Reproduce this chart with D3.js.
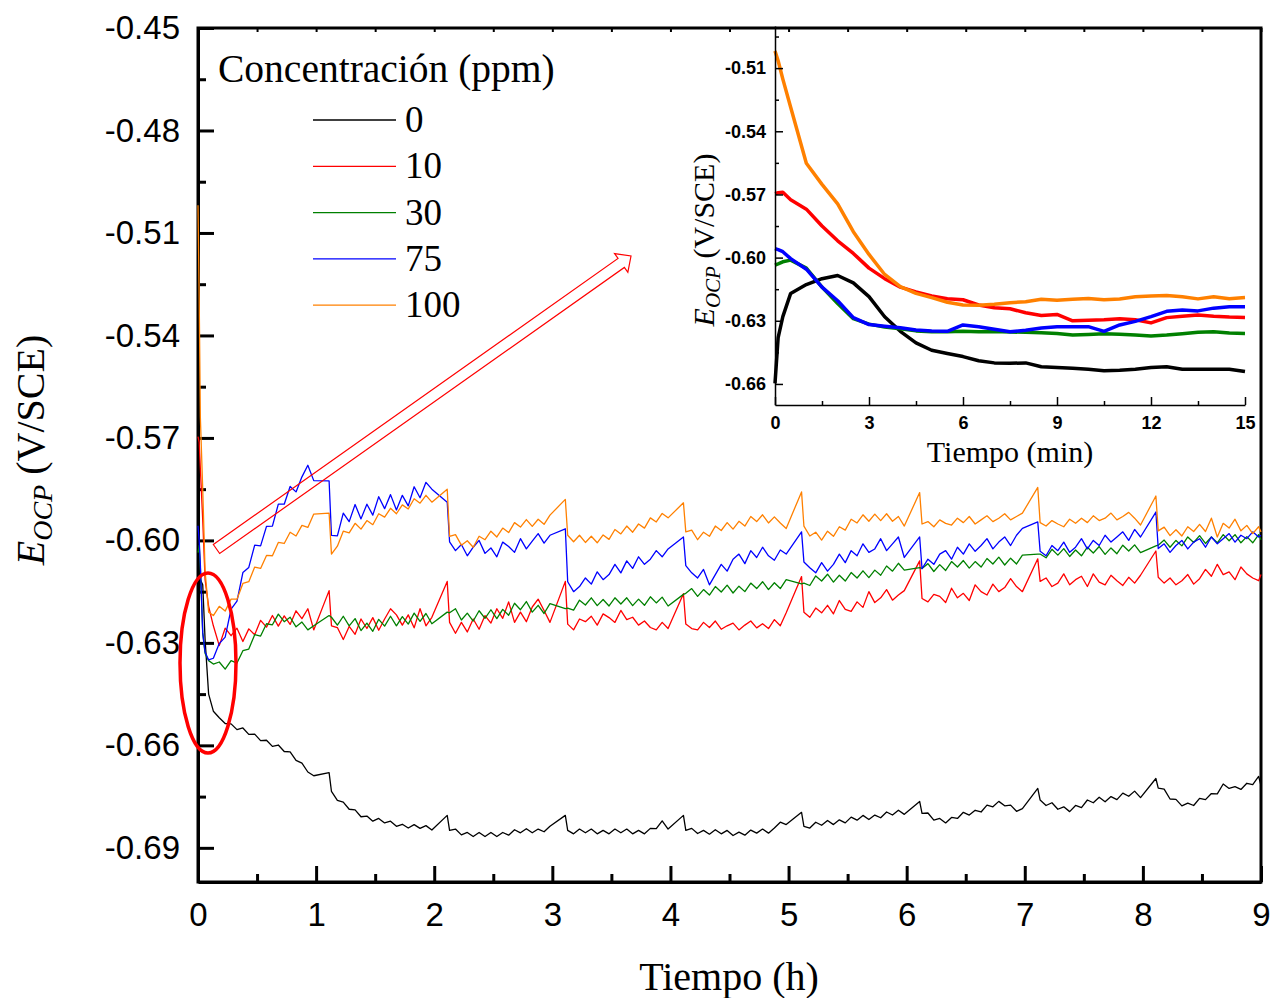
<!DOCTYPE html>
<html>
<head>
<meta charset="utf-8">
<script src="https://cdn.jsdelivr.net/npm/d3@7"></script>
<style>
  body { margin: 0; background: #fff; }
</style>
</head>
<body>
<div class="chart"></div>
<script>
// sampling times (h), each hourly block ends with the logger gap ramp
const hours = [0, 0.01, 0.02, 0.04, 0.06, 0.09,
  0.13, 0.18, 0.23, 0.28, 0.33, 0.38, 0.43, 0.48, 0.53, 0.58, 0.63, 0.68, 0.73, 0.78, 0.83, 0.88, 0.93, 0.98, 1.11,
  1.13, 1.18, 1.23, 1.28, 1.33, 1.38, 1.43, 1.48, 1.53, 1.58, 1.63, 1.68, 1.73, 1.78, 1.83, 1.88, 1.93, 1.98, 2.11,
  2.13, 2.18, 2.23, 2.28, 2.33, 2.38, 2.43, 2.48, 2.53, 2.58, 2.63, 2.68, 2.73, 2.78, 2.83, 2.88, 2.93, 2.98, 3.11,
  3.13, 3.18, 3.23, 3.28, 3.33, 3.38, 3.43, 3.48, 3.53, 3.58, 3.63, 3.68, 3.73, 3.78, 3.83, 3.88, 3.93, 3.98, 4.11,
  4.13, 4.18, 4.23, 4.28, 4.33, 4.38, 4.43, 4.48, 4.53, 4.58, 4.63, 4.68, 4.73, 4.78, 4.83, 4.88, 4.93, 4.98, 5.11,
  5.13, 5.18, 5.23, 5.28, 5.33, 5.38, 5.43, 5.48, 5.53, 5.58, 5.63, 5.68, 5.73, 5.78, 5.83, 5.88, 5.93, 5.98, 6.11,
  6.13, 6.18, 6.23, 6.28, 6.33, 6.38, 6.43, 6.48, 6.53, 6.58, 6.63, 6.68, 6.73, 6.78, 6.83, 6.88, 6.93, 6.98, 7.11,
  7.13, 7.18, 7.23, 7.28, 7.33, 7.38, 7.43, 7.48, 7.53, 7.58, 7.63, 7.68, 7.73, 7.78, 7.83, 7.88, 7.93, 7.98, 8.11,
  8.13, 8.18, 8.23, 8.28, 8.33, 8.38, 8.43, 8.48, 8.53, 8.58, 8.63, 8.68, 8.73, 8.78, 8.83, 8.88, 8.93, 8.98, 9.00];

const ppm0 = [-0.6597, -0.6165, -0.6115, -0.6130, -0.6290, -0.6450,
  -0.6500, -0.6519, -0.6536, -0.6537, -0.6554, -0.6549, -0.6568, -0.6567, -0.6586, -0.6585, -0.6603, -0.6599, -0.6618, -0.6619, -0.6644, -0.6652, -0.6678, -0.6689, -0.6680,
  -0.6735, -0.6761, -0.6766, -0.6787, -0.6789, -0.6809, -0.6807, -0.6822, -0.6814, -0.6827, -0.6822, -0.6837, -0.6831, -0.6842, -0.6832, -0.6843, -0.6835, -0.6848, -0.6805,
  -0.6849, -0.6845, -0.6862, -0.6855, -0.6867, -0.6855, -0.6867, -0.6855, -0.6867, -0.6855, -0.6863, -0.6847, -0.6856, -0.6844, -0.6856, -0.6845, -0.6853, -0.6837, -0.6805,
  -0.6849, -0.6859, -0.6845, -0.6856, -0.6845, -0.6859, -0.6849, -0.6859, -0.6845, -0.6856, -0.6845, -0.6859, -0.6849, -0.6859, -0.6843, -0.6844, -0.6821, -0.6845, -0.6805,
  -0.6849, -0.6843, -0.6858, -0.6849, -0.6860, -0.6847, -0.6859, -0.6849, -0.6864, -0.6854, -0.6863, -0.6848, -0.6857, -0.6845, -0.6857, -0.6842, -0.6825, -0.6832, -0.6796,
  -0.6837, -0.6842, -0.6825, -0.6834, -0.6820, -0.6832, -0.6818, -0.6827, -0.6810, -0.6819, -0.6805, -0.6817, -0.6804, -0.6812, -0.6795, -0.6804, -0.6790, -0.6802, -0.6764,
  -0.6799, -0.6798, -0.6819, -0.6814, -0.6827, -0.6811, -0.6814, -0.6796, -0.6804, -0.6790, -0.6795, -0.6775, -0.6780, -0.6764, -0.6777, -0.6775, -0.6793, -0.6785, -0.6726,
  -0.6760, -0.6776, -0.6768, -0.6787, -0.6780, -0.6794, -0.6776, -0.6782, -0.6760, -0.6768, -0.6752, -0.6765, -0.6750, -0.6759, -0.6740, -0.6749, -0.6734, -0.6753, -0.6697,
  -0.6725, -0.6728, -0.6757, -0.6758, -0.6777, -0.6769, -0.6776, -0.6755, -0.6759, -0.6741, -0.6742, -0.6713, -0.6726, -0.6721, -0.6729, -0.6711, -0.6715, -0.6691, -0.6718];

const ppm10 = [-0.5696, -0.5712, -0.5790, -0.5940, -0.6115, -0.6193,
  -0.6250, -0.6308, -0.6257, -0.6279, -0.6257, -0.6296, -0.6259, -0.6276, -0.6234, -0.6254, -0.6220, -0.6251, -0.6221, -0.6246, -0.6206, -0.6229, -0.6200, -0.6262, -0.6147,
  -0.6250, -0.6255, -0.6290, -0.6252, -0.6275, -0.6230, -0.6258, -0.6226, -0.6263, -0.6230, -0.6200, -0.6218, -0.6248, -0.6218, -0.6256, -0.6200, -0.6250, -0.6225, -0.6120,
  -0.6240, -0.6272, -0.6240, -0.6268, -0.6230, -0.6260, -0.6220, -0.6242, -0.6200, -0.6228, -0.6180, -0.6240, -0.6210, -0.6238, -0.6195, -0.6172, -0.6205, -0.6240, -0.6120,
  -0.6245, -0.6262, -0.6230, -0.6238, -0.6222, -0.6248, -0.6215, -0.6226, -0.6240, -0.6205, -0.6232, -0.6225, -0.6248, -0.6236, -0.6255, -0.6262, -0.6240, -0.6258, -0.6156,
  -0.6245, -0.6258, -0.6262, -0.6240, -0.6255, -0.6236, -0.6260, -0.6250, -0.6242, -0.6262, -0.6248, -0.6236, -0.6256, -0.6244, -0.6258, -0.6232, -0.6250, -0.6212, -0.6106,
  -0.6210, -0.6225, -0.6198, -0.6212, -0.6190, -0.6215, -0.6176, -0.6202, -0.6208, -0.6180, -0.6196, -0.6150, -0.6182, -0.6168, -0.6144, -0.6175, -0.6160, -0.6147, -0.6060,
  -0.6170, -0.6180, -0.6158, -0.6164, -0.6182, -0.6140, -0.6168, -0.6155, -0.6176, -0.6130, -0.6150, -0.6160, -0.6128, -0.6150, -0.6138, -0.6112, -0.6135, -0.6150, -0.6054,
  -0.6120, -0.6110, -0.6135, -0.6125, -0.6098, -0.6130, -0.6115, -0.6105, -0.6135, -0.6098, -0.6122, -0.6130, -0.6102, -0.6118, -0.6132, -0.6108, -0.6125, -0.6102, -0.6031,
  -0.6108, -0.6125, -0.6110, -0.6130, -0.6118, -0.6100, -0.6128, -0.6112, -0.6085, -0.6105, -0.6070, -0.6100, -0.6092, -0.6115, -0.6078, -0.6098, -0.6110, -0.6118, -0.6100];

const ppm30 = [-0.6036, -0.6015, -0.6080, -0.6272, -0.6331, -0.6352,
  -0.6362, -0.6356, -0.6377, -0.6352, -0.6359, -0.6323, -0.6318, -0.6276, -0.6280, -0.6244, -0.6247, -0.6216, -0.6238, -0.6225, -0.6253, -0.6239, -0.6262, -0.6250, -0.6220,
  -0.6225, -0.6248, -0.6222, -0.6250, -0.6229, -0.6264, -0.6242, -0.6266, -0.6231, -0.6251, -0.6222, -0.6250, -0.6223, -0.6245, -0.6213, -0.6237, -0.6214, -0.6244, -0.6210,
  -0.6212, -0.6200, -0.6233, -0.6213, -0.6236, -0.6206, -0.6228, -0.6203, -0.6229, -0.6202, -0.6219, -0.6184, -0.6203, -0.6179, -0.6210, -0.6190, -0.6214, -0.6185, -0.6200,
  -0.6198, -0.6204, -0.6175, -0.6189, -0.6168, -0.6191, -0.6173, -0.6192, -0.6168, -0.6186, -0.6168, -0.6191, -0.6172, -0.6190, -0.6165, -0.6183, -0.6166, -0.6192, -0.6158,
  -0.6155, -0.6141, -0.6164, -0.6144, -0.6160, -0.6135, -0.6151, -0.6131, -0.6154, -0.6134, -0.6150, -0.6125, -0.6141, -0.6121, -0.6144, -0.6124, -0.6141, -0.6115, -0.6127,
  -0.6125, -0.6132, -0.6104, -0.6119, -0.6099, -0.6122, -0.6102, -0.6119, -0.6094, -0.6110, -0.6089, -0.6109, -0.6087, -0.6102, -0.6075, -0.6090, -0.6067, -0.6087, -0.6080,
  -0.6082, -0.6068, -0.6091, -0.6071, -0.6088, -0.6062, -0.6078, -0.6059, -0.6081, -0.6062, -0.6078, -0.6053, -0.6069, -0.6049, -0.6072, -0.6052, -0.6069, -0.6043, -0.6040,
  -0.6040, -0.6051, -0.6026, -0.6043, -0.6024, -0.6047, -0.6028, -0.6045, -0.6020, -0.6037, -0.6018, -0.6041, -0.6022, -0.6039, -0.6014, -0.6031, -0.6013, -0.6036, -0.6016,
  -0.6014, -0.5999, -0.6020, -0.6000, -0.6016, -0.5990, -0.6006, -0.5986, -0.6009, -0.5990, -0.6007, -0.5983, -0.6001, -0.5983, -0.6007, -0.5989, -0.6007, -0.5983, -0.5998];

const ppm75 = [-0.5957, -0.6000, -0.6070, -0.6270, -0.6327, -0.6350,
  -0.6345, -0.6302, -0.6283, -0.6201, -0.6178, -0.6094, -0.6079, -0.6014, -0.6016, -0.5959, -0.5958, -0.5894, -0.5894, -0.5842, -0.5858, -0.5814, -0.5780, -0.5825, -0.5826,
  -0.5985, -0.5987, -0.5920, -0.5945, -0.5895, -0.5937, -0.5894, -0.5926, -0.5872, -0.5907, -0.5866, -0.5911, -0.5868, -0.5899, -0.5843, -0.5875, -0.5830, -0.5850, -0.5888,
  -0.6004, -0.6030, -0.6012, -0.6045, -0.6020, -0.6000, -0.6038, -0.6022, -0.6048, -0.6005, -0.6018, -0.6035, -0.5995, -0.6025, -0.6002, -0.5980, -0.6008, -0.5985, -0.5966,
  -0.6121, -0.6150, -0.6135, -0.6110, -0.6128, -0.6092, -0.6115, -0.6100, -0.6070, -0.6095, -0.6060, -0.6082, -0.6048, -0.6070, -0.6055, -0.6030, -0.6048, -0.6025, -0.5990,
  -0.6074, -0.6095, -0.6110, -0.6085, -0.6130, -0.6100, -0.6070, -0.6090, -0.6055, -0.6040, -0.6068, -0.6030, -0.6050, -0.6020, -0.6045, -0.6058, -0.6028, -0.6040, -0.5975,
  -0.6063, -0.6080, -0.6095, -0.6065, -0.6090, -0.6070, -0.6040, -0.6065, -0.6030, -0.6045, -0.6010, -0.6035, -0.6025, -0.5995, -0.6030, -0.6010, -0.5990, -0.6050, -0.5990,
  -0.6083, -0.6055, -0.6070, -0.6040, -0.6030, -0.6055, -0.6020, -0.6040, -0.6010, -0.6032, -0.6015, -0.5995, -0.6025, -0.6005, -0.5990, -0.6015, -0.5985, -0.5965, -0.5946,
  -0.6032, -0.6045, -0.6015, -0.6030, -0.6005, -0.6035, -0.6020, -0.5995, -0.6025, -0.6000, -0.6015, -0.5985, -0.6005, -0.5990, -0.5975, -0.6000, -0.5968, -0.5990, -0.5917,
  -0.6024, -0.6010, -0.6035, -0.6015, -0.6000, -0.6025, -0.6005, -0.5995, -0.6020, -0.5990, -0.6010, -0.5995, -0.5980, -0.6005, -0.5985, -0.5995, -0.5975, -0.5990, -0.5985];

const ppm100 = [-0.5019, -0.5290, -0.5640, -0.5850, -0.6090, -0.6210,
  -0.6220, -0.6193, -0.6207, -0.6172, -0.6172, -0.6126, -0.6121, -0.6078, -0.6082, -0.6044, -0.6045, -0.6006, -0.6009, -0.5976, -0.5987, -0.5956, -0.5962, -0.5923, -0.5920,
  -0.6040, -0.6017, -0.5973, -0.5978, -0.5950, -0.5967, -0.5942, -0.5954, -0.5922, -0.5932, -0.5906, -0.5922, -0.5896, -0.5908, -0.5878, -0.5891, -0.5868, -0.5888, -0.5850,
  -0.5988, -0.5983, -0.6014, -0.6001, -0.6020, -0.5988, -0.5998, -0.5973, -0.5990, -0.5964, -0.5977, -0.5948, -0.5961, -0.5939, -0.5959, -0.5938, -0.5953, -0.5926, -0.5880,
  -0.5985, -0.6004, -0.5985, -0.6006, -0.5988, -0.6007, -0.5984, -0.5997, -0.5968, -0.5981, -0.5958, -0.5976, -0.5952, -0.5964, -0.5934, -0.5946, -0.5921, -0.5934, -0.5890,
  -0.5975, -0.5970, -0.5998, -0.5976, -0.5988, -0.5958, -0.5971, -0.5948, -0.5967, -0.5944, -0.5958, -0.5930, -0.5945, -0.5925, -0.5949, -0.5931, -0.5949, -0.5965, -0.5858,
  -0.5958, -0.5987, -0.5976, -0.5999, -0.5973, -0.5988, -0.5960, -0.5970, -0.5938, -0.5949, -0.5925, -0.5944, -0.5923, -0.5942, -0.5922, -0.5944, -0.5930, -0.5958, -0.5860,
  -0.5952, -0.5945, -0.5960, -0.5940, -0.5950, -0.5955, -0.5935, -0.5948, -0.5930, -0.5952, -0.5940, -0.5928, -0.5945, -0.5935, -0.5922, -0.5940, -0.5930, -0.5920, -0.5845,
  -0.5948, -0.5958, -0.5942, -0.5952, -0.5960, -0.5938, -0.5950, -0.5935, -0.5948, -0.5928, -0.5942, -0.5935, -0.5920, -0.5940, -0.5930, -0.5918, -0.5935, -0.5955, -0.5870,
  -0.5972, -0.5961, -0.5986, -0.5969, -0.5987, -0.5960, -0.5974, -0.5953, -0.5974, -0.5935, -0.5990, -0.5950, -0.5964, -0.5938, -0.5972, -0.5956, -0.5980, -0.5960, -0.5975];

// inset: first 15 minutes
const minutes = [0, 0.1, 0.25, 0.5, 1, 1.5, 2, 2.5, 3, 3.5, 4, 4.5, 5, 5.5, 6, 6.5, 7, 7.5, 8, 8.5, 9, 9.5, 10, 10.5, 11, 11.5, 12, 12.5, 13, 13.5, 14, 14.5, 15];
const inset0 = [-0.6597, -0.6380, -0.6280, -0.6170, -0.6128, -0.6100, -0.6085, -0.6120, -0.6185, -0.6281, -0.6350, -0.6405, -0.6440, -0.6455, -0.6470, -0.6490, -0.6500, -0.6502, -0.6500, -0.6518, -0.6522, -0.6525, -0.6530, -0.6537, -0.6535, -0.6530, -0.6522, -0.6518, -0.6530, -0.6530, -0.6530, -0.6530, -0.6541];
const inset10 = [-0.5696, -0.5692, -0.5690, -0.5725, -0.5770, -0.5850, -0.5920, -0.5980, -0.6050, -0.6100, -0.6140, -0.6163, -0.6182, -0.6195, -0.6200, -0.6225, -0.6238, -0.6243, -0.6262, -0.6275, -0.6270, -0.6300, -0.6298, -0.6295, -0.6290, -0.6295, -0.6310, -0.6285, -0.6278, -0.6272, -0.6278, -0.6282, -0.6284];
const inset30 = [-0.6036, -0.6030, -0.6020, -0.6012, -0.6050, -0.6140, -0.6218, -0.6290, -0.6316, -0.6330, -0.6338, -0.6348, -0.6352, -0.6352, -0.6350, -0.6352, -0.6351, -0.6353, -0.6355, -0.6357, -0.6360, -0.6367, -0.6365, -0.6362, -0.6364, -0.6368, -0.6372, -0.6368, -0.6362, -0.6355, -0.6352, -0.6358, -0.6360];
const inset75 = [-0.5957, -0.5962, -0.5972, -0.6005, -0.6055, -0.6140, -0.6205, -0.6285, -0.6318, -0.6326, -0.6333, -0.6344, -0.6348, -0.6350, -0.6320, -0.6328, -0.6340, -0.6352, -0.6345, -0.6334, -0.6328, -0.6328, -0.6328, -0.6350, -0.6320, -0.6303, -0.6280, -0.6255, -0.6249, -0.6253, -0.6240, -0.6233, -0.6233];
const inset100 = [-0.5019, -0.5065, -0.5152, -0.5286, -0.5552, -0.5652, -0.5745, -0.5877, -0.5985, -0.6080, -0.6138, -0.6170, -0.6190, -0.6212, -0.6225, -0.6226, -0.6222, -0.6214, -0.6210, -0.6198, -0.6202, -0.6198, -0.6194, -0.6200, -0.6197, -0.6186, -0.6182, -0.6180, -0.6186, -0.6196, -0.6186, -0.6195, -0.6190];

const concentrations = ['0', '10', '30', '75', '100'];
const hourTicks = [0, 1, 2, 3, 4, 5, 6, 7, 8, 9];
const voltTicks = [-0.45, -0.48, -0.51, -0.54, -0.57, -0.60, -0.63, -0.66, -0.69];
const minuteTicks = [0, 3, 6, 9, 12, 15];
const insetVoltTicks = [-0.51, -0.54, -0.57, -0.60, -0.63, -0.66];

const colors = ['#000000', '#ff0000', '#008000', '#0000ff', '#ff8000'];
const mainSeries = [ppm0, ppm10, ppm30, ppm75, ppm100];
const insetSeries = [inset0, inset10, inset30, inset75, inset100];

const sans = '"Liberation Sans", Arial, sans-serif';
const serif = '"Liberation Serif", "Times New Roman", serif';

const svg = d3.select('.chart').append('svg')
    .attr('width', 1274)
    .attr('height', 998)
    .style('display', 'block');

// ---------- main plot ----------
const x = d3.scaleLinear().domain([0, 9]).range([198, 1261]);
const y = d3.scaleLinear().domain([-0.70, -0.45]).range([882, 28]);

function tidy(g, width, size, family, weight) {
    g.select('.domain').attr('stroke-width', width);
    g.selectAll('.tick line').attr('stroke-width', width);
    g.selectAll('.tick text')
        .attr('fill', '#000')
        .style('font-family', family)
        .style('font-size', size + 'px')
        .style('font-weight', weight);
}

const hourMinor = hourTicks.slice(1).map(h => h - 0.5);
const voltMinor = voltTicks.map(v => v - 0.015).filter(v => v > -0.70);

svg.append('rect')
    .attr('x', 198).attr('y', 28)
    .attr('width', 1261 - 198).attr('height', 882 - 28)
    .attr('fill', 'none').attr('stroke', '#000').attr('stroke-width', 3);

svg.append('g')
    .attr('transform', 'translate(0,882)')
    .call(d3.axisBottom(x).tickValues(hourTicks).tickSizeInner(-16).tickSizeOuter(0)
        .tickPadding(21).tickFormat(d => d))
    .call(g => tidy(g, 3, 33, sans, 'normal'));
svg.append('g')
    .attr('transform', 'translate(0,882)')
    .call(d3.axisBottom(x).tickValues(hourMinor).tickSize(-8).tickFormat(''))
    .call(g => { g.select('.domain').remove(); g.selectAll('line').attr('stroke-width', 3); });

svg.append('g')
    .attr('transform', 'translate(0,28)')
    .call(d3.axisTop(x).tickValues(hourTicks.concat(hourMinor)).tickSize(-4).tickFormat(''))
    .call(g => { g.select('.domain').remove(); g.selectAll('line').attr('stroke-width', 2); });

svg.append('g')
    .attr('transform', 'translate(198,0)')
    .call(d3.axisLeft(y).tickValues(voltTicks).tickSizeInner(-16).tickSizeOuter(0)
        .tickPadding(18).tickFormat(d => d.toFixed(2)))
    .call(g => tidy(g, 3, 33, sans, 'normal'));
svg.append('g')
    .attr('transform', 'translate(198,0)')
    .call(d3.axisLeft(y).tickValues(voltMinor).tickSize(-8).tickFormat(''))
    .call(g => { g.select('.domain').remove(); g.selectAll('line').attr('stroke-width', 3); });

// data over the axes, as in the original plot
const line = d3.line()
    .x((d, i) => x(hours[i]))
    .y(d => y(d));

svg.append('g')
    .attr('fill', 'none')
    .attr('stroke-width', 1.3)
    .attr('stroke-linejoin', 'round')
    .selectAll('path')
    .data(mainSeries)
    .enter().append('path')
    .attr('stroke', (d, i) => colors[i])
    .attr('d', line);

svg.append('text')
    .attr('x', 729).attr('y', 990)
    .attr('text-anchor', 'middle')
    .style('font-family', serif).style('font-size', '40px')
    .text('Tiempo (h)');

const yTitle = svg.append('text')
    .attr('transform', 'translate(44,450) rotate(-90)')
    .attr('text-anchor', 'middle')
    .style('font-family', serif).style('font-size', '40px');
yTitle.append('tspan').style('font-style', 'italic').text('E');
yTitle.append('tspan').style('font-style', 'italic').style('font-size', '28px').attr('dy', 8).text('OCP');
yTitle.append('tspan').attr('dy', -8).text(' (V/SCE)');

// legend
const legend = svg.append('g').style('font-family', serif);
legend.append('text')
    .attr('x', 218).attr('y', 82)
    .style('font-size', '39.5px')
    .text('Concentración (ppm)');
const entry = legend.selectAll('g.entry')
    .data(concentrations)
    .enter().append('g')
    .attr('class', 'entry')
    .attr('transform', (d, i) => `translate(0,${120 + i * 46.3})`);
entry.append('line')
    .attr('x1', 313).attr('x2', 396)
    .attr('stroke', (d, i) => colors[i]).attr('stroke-width', 1.3);
entry.append('text')
    .attr('x', 405).attr('y', 12)
    .style('font-size', '37px')
    .text(d => d);

// marker of the zoomed region and arrow to the inset
svg.append('ellipse')
    .attr('cx', 208).attr('cy', 663).attr('rx', 28).attr('ry', 90)
    .attr('fill', 'none').attr('stroke', '#ff0000').attr('stroke-width', 3.5);

const tail = [216.5, 549], tip = [631, 256];
const len = Math.hypot(tip[0] - tail[0], tip[1] - tail[1]);
const ang = Math.atan2(tip[1] - tail[1], tip[0] - tail[0]) * 180 / Math.PI;
svg.append('path')
    .attr('transform', `translate(${tail}) rotate(${ang})`)
    .attr('d', `M0,-5.5H${len - 12}V-11.5L${len},0L${len - 12},11.5V5.5H0Z`)
    .attr('fill', 'none').attr('stroke', '#ff0000').attr('stroke-width', 1.2);

// ---------- inset ----------
const xi = d3.scaleLinear().domain([0, 15]).range([775, 1245]);
const yi = d3.scaleLinear().domain([-0.67, -0.49]).range([405, 26]);

const insetLine = d3.line()
    .x((d, i) => xi(minutes[i]))
    .y(d => yi(d));

svg.append('g')
    .attr('fill', 'none')
    .attr('stroke-width', 3.5)
    .attr('stroke-linejoin', 'round')
    .selectAll('path')
    .data(insetSeries)
    .enter().append('path')
    .attr('stroke', (d, i) => colors[i])
    .attr('d', insetLine);

svg.append('g')
    .attr('transform', 'translate(0,405)')
    .call(d3.axisBottom(xi).tickValues(minuteTicks).tickSizeInner(-8).tickSizeOuter(0)
        .tickPadding(11).tickFormat(d => d))
    .call(g => tidy(g, 1.5, 18, sans, 'bold'));
svg.append('g')
    .attr('transform', 'translate(0,405)')
    .call(d3.axisBottom(xi).tickValues(minuteTicks.slice(1).map(m => m - 1.5)).tickSize(-4).tickFormat(''))
    .call(g => { g.select('.domain').remove(); g.selectAll('line').attr('stroke-width', 1.5); });

svg.append('g')
    .attr('transform', 'translate(775,0)')
    .call(d3.axisLeft(yi).tickValues(insetVoltTicks).tickSizeInner(-8).tickSizeOuter(0)
        .tickPadding(9).tickFormat(d => d.toFixed(2)))
    .call(g => tidy(g, 1.5, 18, sans, 'bold'));
svg.append('g')
    .attr('transform', 'translate(775,0)')
    .call(d3.axisLeft(yi).tickValues(insetVoltTicks.map(v => v + 0.015)).tickSize(-4).tickFormat(''))
    .call(g => { g.select('.domain').remove(); g.selectAll('line').attr('stroke-width', 1.5); });

svg.append('text')
    .attr('x', 1010).attr('y', 462)
    .attr('text-anchor', 'middle')
    .style('font-family', serif).style('font-size', '30px')
    .text('Tiempo (min)');

const yiTitle = svg.append('text')
    .attr('transform', 'translate(714,240) rotate(-90)')
    .attr('text-anchor', 'middle')
    .style('font-family', serif).style('font-size', '30px');
yiTitle.append('tspan').style('font-style', 'italic').text('E');
yiTitle.append('tspan').style('font-style', 'italic').style('font-size', '21px').attr('dy', 6).text('OCP');
yiTitle.append('tspan').attr('dy', -6).text(' (V/SCE)');
</script>
</body>
</html>
